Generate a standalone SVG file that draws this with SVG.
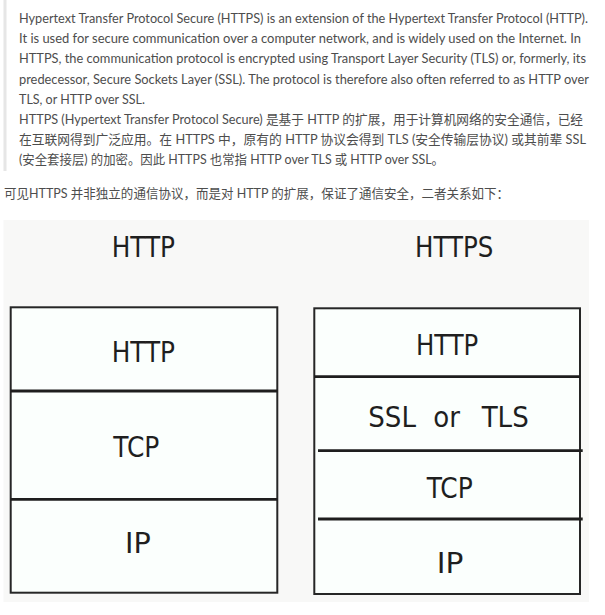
<svg xmlns="http://www.w3.org/2000/svg" width="605" height="615" viewBox="0 0 605 615">
<style>
.p{font-family:Lato,"Noto Sans CJK SC",sans-serif;font-size:13px;fill:#4d4d4d}
.d{font-family:"DejaVu Sans Condensed","DejaVu Sans",sans-serif;font-size:29px;fill:#1f1f1f;text-anchor:start}
.box{fill:#fbfffd;stroke:#262626;stroke-width:2}
.div{stroke:#1e1e1e;stroke-width:2.8}
</style>
<rect width="605" height="615" fill="#ffffff"/>
<g id="quote">
<rect x="3.5" y="0" width="3" height="171" fill="#e6e6e6"/>
<text class="p" x="19" y="23" textLength="569" lengthAdjust="spacingAndGlyphs">Hypertext Transfer Protocol Secure (HTTPS) is an extension of the Hypertext Transfer Protocol (HTTP).</text>
<text class="p" x="19" y="43.2" textLength="562" lengthAdjust="spacingAndGlyphs">It is used for secure communication over a computer network, and is widely used on the Internet. In</text>
<text class="p" x="19" y="63.4" textLength="567" lengthAdjust="spacingAndGlyphs">HTTPS, the communication protocol is encrypted using Transport Layer Security (TLS) or, formerly, its</text>
<text class="p" x="19" y="83.6" textLength="570" lengthAdjust="spacingAndGlyphs">predecessor, Secure Sockets Layer (SSL). The protocol is therefore also often referred to as HTTP over</text>
<text class="p" x="19" y="103.8" textLength="126" lengthAdjust="spacingAndGlyphs">TLS, or HTTP over SSL.</text>
<text class="p" x="19" y="124" textLength="564" lengthAdjust="spacingAndGlyphs">HTTPS (Hypertext Transfer Protocol Secure) 是基于 HTTP 的扩展，用于计算机网络的安全通信，已经</text>
<text class="p" x="19" y="144.2" textLength="567" lengthAdjust="spacingAndGlyphs">在互联网得到广泛应用。在 HTTPS 中，原有的 HTTP 协议会得到 TLS (安全传输层协议) 或其前辈 SSL</text>
<text class="p" x="19" y="164.4" textLength="425" lengthAdjust="spacingAndGlyphs">(安全套接层) 的加密。因此 HTTPS 也常指 HTTP over TLS 或 HTTP over SSL。</text>
</g>
<text class="p" x="4" y="198" textLength="505" lengthAdjust="spacingAndGlyphs">可见HTTPS 并非独立的通信协议，而是对 HTTP 的扩展，保证了通信安全，二者关系如下：</text>
<rect x="3.5" y="220" width="585.5" height="382" fill="#f8f8f7"/>
<g id="http-stack">
<text class="d" x="111.7" y="257.3" textLength="63.3" lengthAdjust="spacingAndGlyphs">HTTP</text>
<rect class="box" x="10.7" y="307.3" width="266.6" height="285.4"/>
<g id="l-http"><text class="d" x="111.7" y="361.7" textLength="63.3" lengthAdjust="spacingAndGlyphs">HTTP</text></g>
<line class="div" x1="10.7" y1="391" x2="277.3" y2="391"/>
<g id="l-tcp"><text class="d" x="113.3" y="457.3" textLength="46" lengthAdjust="spacingAndGlyphs">TCP</text></g>
<line class="div" x1="10.7" y1="499.3" x2="277.3" y2="499.3"/>
<g id="l-ip"><text class="d" x="125" y="553.3" textLength="25.7" lengthAdjust="spacingAndGlyphs">IP</text></g>
</g>
<g id="https-stack">
<text class="d" x="415" y="257.3" textLength="78.3" lengthAdjust="spacingAndGlyphs">HTTPS</text>
<rect class="box" x="314.3" y="308.3" width="265.7" height="285.7"/>
<g id="r-http"><text class="d" x="416" y="355" textLength="62.3" lengthAdjust="spacingAndGlyphs">HTTP</text></g>
<line class="div" x1="314.3" y1="376.7" x2="580" y2="376.7"/>
<g id="r-ssl"><text class="d" y="426.7"><tspan x="368.3">SSL</tspan> <tspan x="433.3">or</tspan> <tspan x="481.7">TLS</tspan></text></g>
<line class="div" x1="318" y1="450.7" x2="582.7" y2="450.7"/>
<g id="r-tcp"><text class="d" x="426.7" y="498.3" textLength="46" lengthAdjust="spacingAndGlyphs">TCP</text></g>
<line class="div" x1="318" y1="519" x2="582.7" y2="519"/>
<g id="r-ip"><text class="d" x="436.7" y="573.3" textLength="26.6" lengthAdjust="spacingAndGlyphs">IP</text></g>
</g>
<g id="connectors"/>
</svg>
